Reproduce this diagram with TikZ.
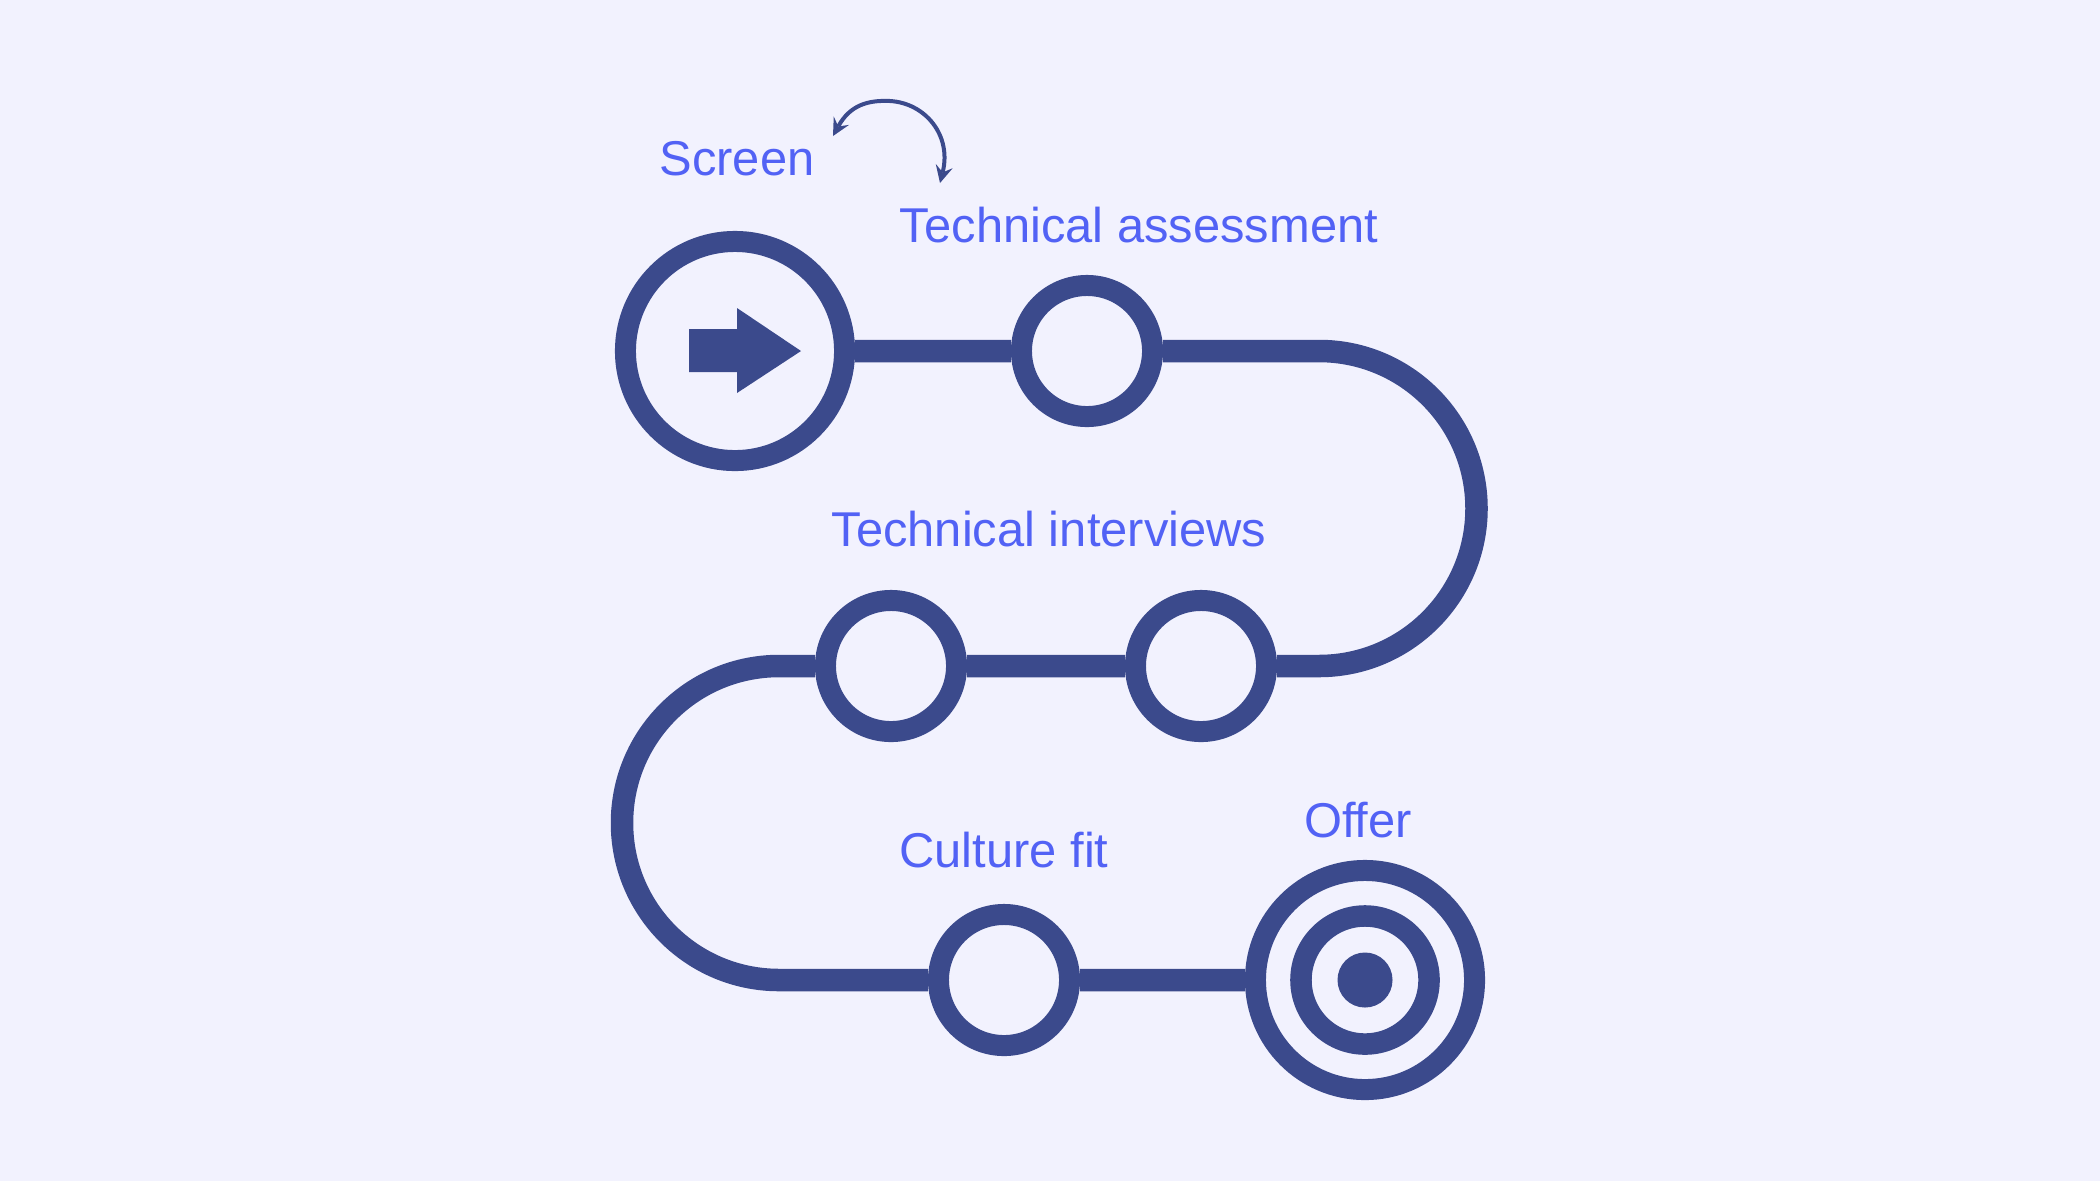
\documentclass[tikz,border=0pt]{standalone}
\usepackage{fontspec}
\setmainfont{Liberation Sans}
\definecolor{bgc}{HTML}{F2F2FE}
\definecolor{ink}{HTML}{3B4A8C}
\definecolor{labc}{HTML}{5262F5}
\begin{document}
\begin{tikzpicture}[x=0.01cm,y=-0.01cm,line cap=butt,line join=round,>=stealth,
  stage/.style={circle,draw=ink,fill=bgc,line width=2.1mm,inner sep=0pt,minimum size=1.31cm},
  bigstage/.style={stage,minimum size=2.19cm},
  track/.style={draw=ink,line width=2.25mm},
  lab/.style={text=labc,anchor=base,font=\fontsize{13.9pt}{16pt}\selectfont}]
  \fill[bgc] (0,0) rectangle (2100,1181);
  \useasboundingbox (0,0) rectangle (2100,1181);

  % Stages
  \node[bigstage] (start) at (735,351) {};
  \node[stage] (assess) at (1087,351) {};
  \node[stage] (ivtwo) at (1201,666) {};
  \node[stage] (ivone) at (891,666) {};
  \node[stage] (culture) at (1004,980) {};
  \node[bigstage] (offer) at (1365,980) {};
  \coordinate (bendA) at (1319,351);
  \coordinate (bendB) at (779,666);

  % Track
  \draw[track] (start) -- (assess) -- (bendA)
    arc[start angle=-90,end angle=90,radius=157.5] -- (ivtwo) -- (ivone) -- (bendB)
    arc[start angle=-90,end angle=-270,radius=157] -- (culture) -- (offer);

  % Start arrow
  \fill[ink] (start) ++(-46,-22) -- ++(48,0) -- ++(0,-21) -- ++(64,43)
    -- ++(-64,42) -- ++(0,-21) -- ++(-48,0) -- cycle;

  % Target
  \node[circle,draw=ink,line width=2.15mm,inner sep=0pt,minimum size=1.28cm] (ring) at (offer) {};
  \node[circle,fill=ink,inner sep=0pt,minimum size=0.55cm] (dot) at (offer) {};

  % Labels
  \node[lab] (lscreen) at (737,175) {Screen};
  \node[lab] (lassess) at (1139,242) {Technical assessment};
  \node[lab] (linterv) at (1049,546) {Technical interviews};
  \node[lab] (lculture) at (1004,867) {Culture fit};
  \node[lab] (loffer) at (1358,837) {Offer};

  % Swap arrow
  \coordinate (swapA) at (833,136);
  \coordinate (swapB) at (940,183);
  \draw[<->,ink,line width=0.4mm] (swapA) .. controls (850,105) and (868,100) .. (890,101)
    .. controls (925,103) and (952,135) .. (swapB);
\end{tikzpicture}
\end{document}
